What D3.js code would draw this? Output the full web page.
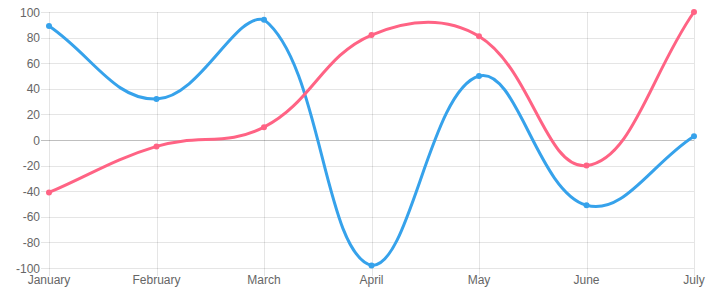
<!DOCTYPE html>
<html lang="en">
  <head>
    <meta charset="UTF-8" />
    <title>Line chart</title>
    <style>
      body { margin: 0; background: #fff; }
      svg text { font-family: "Liberation Sans", Arial, sans-serif; font-size: 12px; fill: #666; }
    </style>
  </head>
  <body>
    <svg width="715" height="292"></svg>

    <script src="https://cdn.jsdelivr.net/npm/d3@7"></script>
    <script>
      const months = ["January", "February", "March", "April", "May", "June", "July"];
      const blueValues = [89, 32, 94, -98, 50, -51, 3];
      const redValues = [-41, -5, 10, 82, 81, -20, 100];
      const yTicks = [100, 80, 60, 40, 20, 0, -20, -40, -60, -80, -100];

      const svg = d3.select("svg");
      const area = { left: 49, right: 694, top: 12, bottom: 268 };

      const x = d3.scalePoint().domain(months).range([area.left, area.right]);
      const y = d3.scaleLinear().domain([-100, 100]).range([area.bottom, area.top]);

      // chart.js style bezier (tension 0.4, control points capped to chart area)
      function splineCurve(context) {
        let pts;
        const t = 0.4;
        const clampX = (v) => Math.max(area.left, Math.min(area.right, v));
        const clampY = (v) => Math.max(area.top, Math.min(area.bottom, v));
        return {
          areaStart() {},
          areaEnd() {},
          lineStart() { pts = []; },
          point(px, py) { pts.push({ x: +px, y: +py }); },
          lineEnd() {
            pts.forEach((cur, i) => {
              const prev = pts[i - 1] || cur;
              const next = pts[i + 1] || cur;
              const d01 = Math.hypot(cur.x - prev.x, cur.y - prev.y);
              const d12 = Math.hypot(next.x - cur.x, next.y - cur.y);
              let s01 = d01 / (d01 + d12), s12 = d12 / (d01 + d12);
              if (isNaN(s01)) s01 = 0;
              if (isNaN(s12)) s12 = 0;
              const fa = t * s01, fb = t * s12;
              cur.cp1x = clampX(cur.x - fa * (next.x - prev.x));
              cur.cp1y = clampY(cur.y - fa * (next.y - prev.y));
              cur.cp2x = clampX(cur.x + fb * (next.x - prev.x));
              cur.cp2y = clampY(cur.y + fb * (next.y - prev.y));
            });
            pts.forEach((cur, i) => {
              if (i === 0) context.moveTo(cur.x, cur.y);
              else {
                const p = pts[i - 1];
                context.bezierCurveTo(p.cp2x, p.cp2y, cur.cp1x, cur.cp1y, cur.x, cur.y);
              }
            });
          }
        };
      }

      // grid
      const grid = svg.append("g");
      grid.selectAll(".hgrid")
        .data(yTicks)
        .enter()
        .append("line")
        .attr("x1", area.left - 8)
        .attr("x2", area.right)
        .attr("y1", (d) => Math.round(y(d)) + 0.5)
        .attr("y2", (d) => Math.round(y(d)) + 0.5)
        .attr("stroke", (d) => (d === 0 ? "rgba(0,0,0,0.25)" : "rgba(0,0,0,0.1)"));

      grid.selectAll(".vgrid")
        .data(months)
        .enter()
        .append("line")
        .attr("x1", (d) => Math.round(x(d)) + 0.5)
        .attr("x2", (d) => Math.round(x(d)) + 0.5)
        .attr("y1", area.top)
        .attr("y2", area.bottom + 8)
        .attr("stroke", "rgba(0,0,0,0.1)");

      // axis labels
      svg.selectAll(".ylabel")
        .data(yTicks)
        .enter()
        .append("text")
        .attr("x", area.left - 9)
        .attr("y", (d) => y(d) + 4.5)
        .attr("text-anchor", "end")
        .text((d) => d);

      svg.selectAll(".xlabel")
        .data(months)
        .enter()
        .append("text")
        .attr("x", (d) => x(d))
        .attr("y", 284)
        .attr("text-anchor", "middle")
        .text((d) => d);

      const line = d3.line()
        .x((d, i) => x(months[i]))
        .y((d) => y(d))
        .curve(splineCurve);

      const series = [
        { values: blueValues, color: "rgb(54, 162, 235)" },
        { values: redValues, color: "rgb(255, 99, 132)" },
      ];

      series.forEach((s) => {
        svg.append("path")
          .datum(s.values)
          .attr("d", line)
          .attr("fill", "none")
          .attr("stroke", s.color)
          .attr("stroke-width", 3);

        svg.append("g")
          .selectAll("circle")
          .data(s.values)
          .enter()
          .append("circle")
          .attr("cx", (d, i) => x(months[i]))
          .attr("cy", (d) => y(d))
          .attr("r", 3)
          .attr("fill", s.color);
      });
    </script>
  </body>
</html>
